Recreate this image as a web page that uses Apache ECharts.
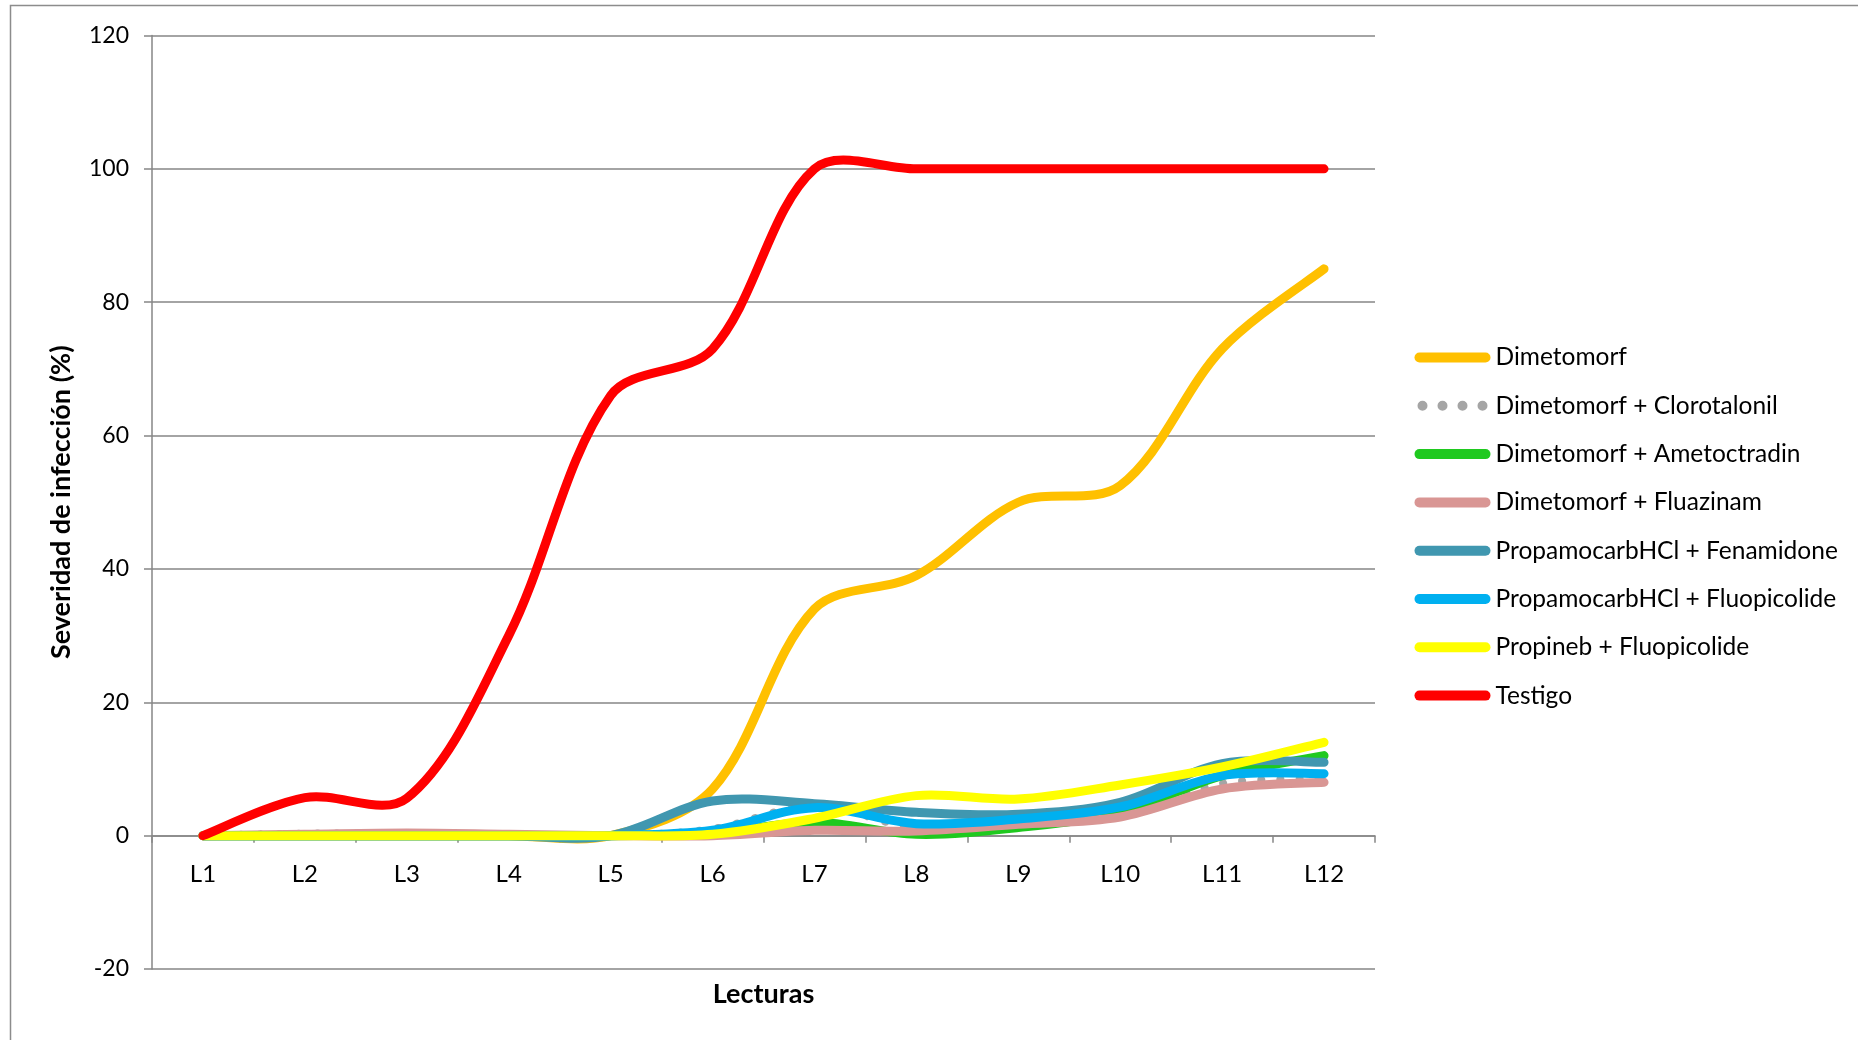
<!DOCTYPE html>
<html>
<head>
<meta charset="utf-8">
<script src="https://cdn.jsdelivr.net/npm/echarts@6/dist/echarts.min.js"></script>
<style>
  html, body { margin: 0; padding: 0; background: #fff; }
  #chart { width: 1858px; height: 1040px; }
</style>
</head>
<body>
<div id="chart"></div>
<script>
// Lecturas (readings) on the x axis
const lecturas = ['L1', 'L2', 'L3', 'L4', 'L5', 'L6', 'L7', 'L8', 'L9', 'L10', 'L11', 'L12'];

// Severidad de infección (%) per treatment
const dimetomorf              = [0, 0, 0, 0, 0, 7, 34, 39, 50, 52.5, 73, 85];
const dimetomorfClorotalonil  = [0, 0.3, 0.3, 0, 0, 1, 4.5, 1.2, 2, 3.2, 7.8, 8.5];
const dimetomorfAmetoctradin  = [0, 0, 0, 0, 0, 0.3, 2, 0.2, 1.2, 3.5, 9, 12];
const dimetomorfFluazinam     = [0, 0.2, 0.4, 0.2, 0, 0, 0.8, 0.7, 1.7, 2.8, 7, 8];
const propamocarbFenamidone   = [0, 0, 0, 0, 0, 5.2, 4.8, 3.5, 3.2, 5, 10.8, 11];
const propamocarbFluopicolide = [0, 0, 0, 0, 0, 0.8, 4.2, 1.8, 2.5, 4.3, 9, 9.3];
const propinebFluopicolide    = [0, 0, 0, 0, 0, 0.2, 2.6, 6, 5.5, 7.6, 10.3, 14];
const testigo                 = [0, 5.7, 5.6, 30, 66, 73, 100, 100, 100, 100, 100, 100];

const yTicks = { min: -20, max: 120, step: 20 };

const FONT = 'Lato, "Open Sans", sans-serif';
const GRID_GRAY = '#868686';
const LINE_W = 9;

// Plot box (px)
const GRID_TOP = 35.5;
const GRID_BOTTOM = 71;
const GRID_H = 1040 - GRID_TOP - GRID_BOTTOM;
// The category axis sits on the zero line: lift it from the bottom edge by (0 - min) worth of height
const X_AXIS_LIFT = GRID_H * (0 - yTicks.min) / (yTicks.max - yTicks.min);

// Legend keys: a rounded bar for solid lines, four dots for the dotted one
const ICON_SOLID = 'path://M5,0 H71 A5,5 0 0 1 71,10 H5 A5,5 0 0 1 5,0 Z';
const ICON_DOTS = 'path://M0,5 A5,5 0 1 0 10,5 A5,5 0 1 0 0,5 Z M20,5 A5,5 0 1 0 30,5 A5,5 0 1 0 20,5 Z ' +
                  'M40,5 A5,5 0 1 0 50,5 A5,5 0 1 0 40,5 Z M60,5 A5,5 0 1 0 70,5 A5,5 0 1 0 60,5 Z';

// Smoothed line through every reading: Bezier segments whose tangents follow the
// neighbouring points, shortened on the side of the shorter segment.
function smoothPath(pts) {
  const n = pts.length;
  const dist = (a, b) => Math.hypot(b[0] - a[0], b[1] - a[1]);
  const K = 1 / 3;
  const outCp = [], inCp = [];
  for (let i = 0; i < n; i++) {
    const prev = pts[Math.max(i - 1, 0)];
    const next = pts[Math.min(i + 1, n - 1)];
    const p = pts[i];
    const vx = next[0] - prev[0], vy = next[1] - prev[1];
    const d0 = dist(prev, p), d1 = dist(p, next);
    const sum = d0 + d1 || 1;
    const rOut = (i === 0 || i === n - 1) ? 0.5 : d1 / sum;
    const rIn = (i === 0 || i === n - 1) ? 0.5 : d0 / sum;
    outCp.push([p[0] + vx * rOut * K, p[1] + vy * rOut * K]);
    inCp.push([p[0] - vx * rIn * K, p[1] - vy * rIn * K]);
  }
  let d = 'M' + pts[0][0] + ',' + pts[0][1];
  for (let i = 0; i < n - 1; i++) {
    const c1 = outCp[i], c2 = inCp[i + 1], p2 = pts[i + 1];
    d += ' C' + c1[0] + ',' + c1[1] + ' ' + c2[0] + ',' + c2[1] + ' ' + p2[0] + ',' + p2[1];
  }
  return d;
}

function lineSeries(name, values, color, dotted) {
  return {
    name: name,
    type: 'custom',
    coordinateSystem: 'cartesian2d',
    data: values.map((v, i) => [i, v]),
    encode: { x: 0, y: 1 },
    itemStyle: { color: color },
    clip: false,
    silent: true,
    renderItem: function (params, api) {
      if (params.dataIndex !== 0) return null;
      const pts = values.map((v, i) => api.coord([i, v]));
      return {
        type: 'path',
        shape: { pathData: smoothPath(pts) },
        style: {
          fill: 'none',
          stroke: color,
          lineWidth: dotted ? 8 : LINE_W,
          lineCap: 'round',
          lineJoin: 'round',
          lineDash: dotted ? [0.1, 19] : null
        }
      };
    }
  };
}

const chart = echarts.init(document.getElementById('chart'), null, { renderer: 'canvas' });

chart.setOption({
  animation: false,
  backgroundColor: '#ffffff',
  textStyle: { fontFamily: FONT, color: '#000' },
  graphic: [{
    type: 'rect',
    shape: { x: 10.5, y: 5.5, width: 1900, height: 1100 },
    style: { fill: 'none', stroke: '#8c8c8c', lineWidth: 1.5 },
    silent: true,
    z: -10
  }],
  grid: {
    left: 152, right: 483, top: GRID_TOP, bottom: GRID_BOTTOM,
    containLabel: false,
    outerBoundsMode: 'none'
  },
  legend: {
    orient: 'vertical',
    left: 1409.5,
    top: 340,
    itemWidth: 76,
    itemHeight: 10,
    itemGap: 23.3,
    textStyle: { fontFamily: FONT, fontSize: 24.5, color: '#000', padding: [0, 0, 0, 0] },
    data: [
      { name: 'Dimetomorf', icon: ICON_SOLID },
      { name: 'Dimetomorf + Clorotalonil', icon: ICON_DOTS },
      { name: 'Dimetomorf + Ametoctradin', icon: ICON_SOLID },
      { name: 'Dimetomorf + Fluazinam', icon: ICON_SOLID },
      { name: 'PropamocarbHCl + Fenamidone', icon: ICON_SOLID },
      { name: 'PropamocarbHCl + Fluopicolide', icon: ICON_SOLID },
      { name: 'Propineb + Fluopicolide', icon: ICON_SOLID },
      { name: 'Testigo', icon: ICON_SOLID }
    ]
  },
  xAxis: {
    type: 'category',
    data: lecturas,
    boundaryGap: true,
    position: 'bottom',
    offset: -X_AXIS_LIFT,
    name: 'Lecturas',
    nameLocation: 'middle',
    nameGap: 145.5,
    nameTextStyle: { fontFamily: FONT, fontSize: 27, fontWeight: 'bold', color: '#000' },
    axisLine: { show: true, onZero: false, lineStyle: { color: GRID_GRAY, width: 1.5 } },
    axisTick: { show: true, interval: 0, length: 7, lineStyle: { color: GRID_GRAY, width: 1.5 } },
    axisLabel: { interval: 0, margin: 26.5, fontFamily: FONT, fontSize: 24, color: '#000' },
    splitLine: { show: false }
  },
  yAxis: {
    type: 'value',
    min: yTicks.min,
    max: yTicks.max,
    interval: yTicks.step,
    name: 'Severidad de infección (%)',
    nameLocation: 'middle',
    nameGap: 77,
    nameRotate: 90,
    nameTextStyle: { fontFamily: FONT, fontSize: 27, fontWeight: 'bold', color: '#000' },
    axisLine: { show: true, lineStyle: { color: GRID_GRAY, width: 1.5 } },
    axisTick: { show: true, length: 8, lineStyle: { color: GRID_GRAY, width: 1.5 } },
    axisLabel: { margin: 23, fontFamily: FONT, fontSize: 23, color: '#000' },
    splitLine: { show: true, lineStyle: { color: GRID_GRAY, width: 1.5 } }
  },
  series: [
    lineSeries('Dimetomorf', dimetomorf, '#FFC000'),
    lineSeries('Dimetomorf + Clorotalonil', dimetomorfClorotalonil, '#A5A5A5', true),
    lineSeries('Dimetomorf + Ametoctradin', dimetomorfAmetoctradin, '#1FC91F'),
    lineSeries('Dimetomorf + Fluazinam', dimetomorfFluazinam, '#D99694'),
    lineSeries('PropamocarbHCl + Fenamidone', propamocarbFenamidone, '#4097B0'),
    lineSeries('PropamocarbHCl + Fluopicolide', propamocarbFluopicolide, '#00B0F0'),
    lineSeries('Propineb + Fluopicolide', propinebFluopicolide, '#FFFF00'),
    lineSeries('Testigo', testigo, '#FF0000')
  ]
});
</script>
</body>
</html>
